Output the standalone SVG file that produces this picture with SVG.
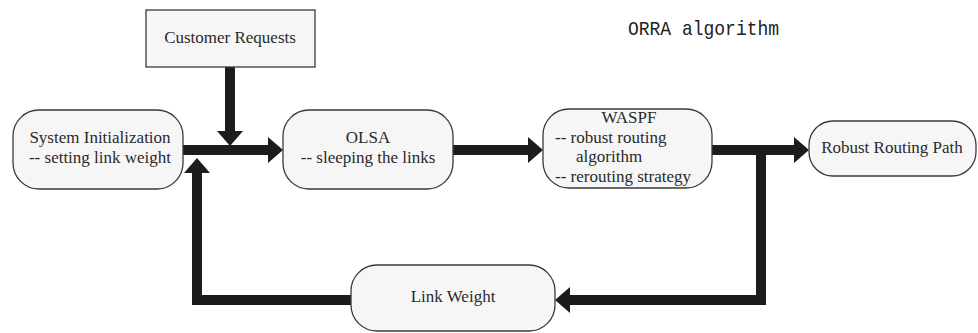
<svg xmlns="http://www.w3.org/2000/svg" width="978" height="333" viewBox="0 0 978 333">
<style>
.node{fill:#f6f6f6;stroke:#3a3a3a;stroke-width:1.3}
.t{font-family:"Liberation Serif","Times New Roman",serif;font-size:17px;fill:#2a2a2a}
.c{text-anchor:middle}
.conn{fill:none;stroke:#1c1c1c;stroke-width:10;stroke-linejoin:miter}
.title{font-family:"Liberation Mono","Courier New",monospace;font-size:18px;fill:#222}
</style>
<defs>
<marker id="ah" markerUnits="userSpaceOnUse" markerWidth="16" markerHeight="26" refX="0" refY="13" orient="auto" overflow="visible">
<path d="M0,0 L15,13 L0,26 Z" fill="#1c1c1c"/>
</marker>
</defs>
<rect width="978" height="333" fill="#ffffff"/>
<text class="title" transform="translate(628,35) scale(1,1.15)" x="0" y="0">ORRA algorithm</text>
<g id="connectors">
<path class="conn" d="M183,150 H268" marker-end="url(#ah)"/>
<path class="conn" d="M230,67 V131" marker-end="url(#ah)"/>
<path class="conn" d="M453,150 H528" marker-end="url(#ah)"/>
<path class="conn" d="M712,150 H794" marker-end="url(#ah)"/>
<path class="conn" d="M761,150 V300 H570" marker-end="url(#ah)"/>
<path class="conn" d="M351,300 H197 V173" marker-end="url(#ah)"/>
</g>
<g id="customer-requests">
<rect class="node" x="146" y="10" width="169" height="57"/>
<text class="t c" x="230" y="43">Customer Requests</text>
</g>
<g id="system-initialization">
<rect class="node" x="13" y="110" width="170" height="79" rx="26" ry="26"/>
<text class="t c" x="100" y="143">System Initialization</text>
<text class="t c" x="100" y="163">-- setting link weight</text>
</g>
<g id="olsa">
<rect class="node" x="283" y="110" width="170" height="79" rx="26" ry="26"/>
<text class="t c" x="368" y="143">OLSA</text>
<text class="t c" x="368" y="163">-- sleeping the links</text>
</g>
<g id="waspf">
<rect class="node" x="543" y="109" width="169" height="79" rx="26" ry="26"/>
<text class="t c" x="629" y="123">WASPF</text>
<text class="t" x="555" y="143">-- robust routing</text>
<text class="t" x="576" y="162">algorithm</text>
<text class="t" x="555" y="182">-- rerouting strategy</text>
</g>
<g id="robust-routing-path">
<rect class="node" x="809" y="121" width="167" height="55" rx="24" ry="24"/>
<text class="t c" x="892" y="153">Robust Routing Path</text>
</g>
<g id="link-weight">
<rect class="node" x="351" y="265" width="204" height="66" rx="26" ry="26"/>
<text class="t c" x="453" y="302">Link Weight</text>
</g>
</svg>
